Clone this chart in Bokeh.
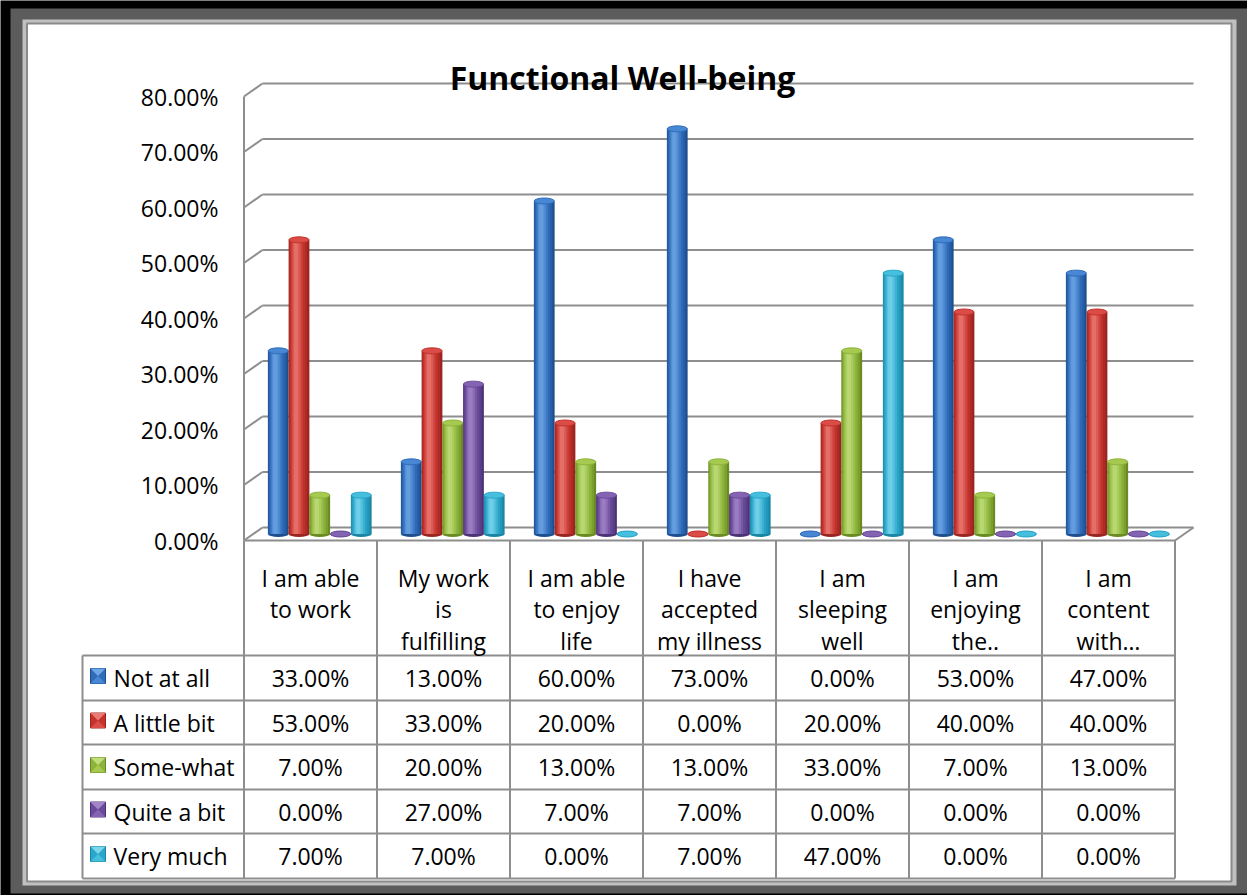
from bokeh.plotting import figure
from bokeh.models import Range1d, ColumnDataSource
from bokeh.core.properties import value
from bokeh.embed import file_html
from bokeh.resources import INLINE

# ---------------- data ----------------
categories = [
    "I am able to work",
    "My work is fulfilling",
    "I am able to enjoy life",
    "I have accepted my illness",
    "I am sleeping well",
    "I am enjoying the..",
    "I am content with…",
]
category_lines = [
    ["I am able", "to work"],
    ["My work", "is", "fulfilling"],
    ["I am able", "to enjoy", "life"],
    ["I have", "accepted", "my illness"],
    ["I am", "sleeping", "well"],
    ["I am", "enjoying", "the.."],
    ["I am", "content", "with…"],
]
series_names = ["Not at all", "A little bit", "Some-what", "Quite a bit", "Very much"]
not_at_all = [33, 13, 60, 73, 0, 53, 47]
a_little_bit = [53, 33, 20, 0, 20, 40, 40]
some_what = [7, 20, 13, 13, 33, 7, 13]
quite_a_bit = [0, 27, 7, 7, 0, 0, 0]
very_much = [7, 7, 0, 7, 47, 0, 0]
series_values = [not_at_all, a_little_bit, some_what, quite_a_bit, very_much]
y_ticks = [0, 10, 20, 30, 40, 50, 60, 70, 80]
title = "Functional Well-being"

# cylinder shades per series: edge, body, light, highlight
shades = [
    ("#1d4f8e", "#2f6cba", "#4787d4", "#6ea6e6"),
    ("#992420", "#c4322c", "#db4c46", "#ec7a74"),
    ("#6a8a22", "#8cb43a", "#a6ca50", "#c2de7c"),
    ("#4c3276", "#6a4a9a", "#8464b2", "#a286c8"),
    ("#1a86a4", "#2aa6ca", "#46bede", "#7cd6ee"),
]

# ---------------- geometry ----------------
W, H = 1247, 895
X0, CW = 243.5, 133.0      # left edge of the first column, column width (px)
Y0, PY = 540.0, 5.55       # pixel row of 0 % on the front edge, px per percent
DEPTH_X, DEPTH_Y = 18.5, 13.0   # perspective offset of the back wall (px)


def X(px):
    return (px - X0) / CW


def Y(py):
    return (Y0 - py) / PY


def mix(c1, c2, t):
    a = [int(c1[k:k + 2], 16) for k in (1, 3, 5)]
    b = [int(c2[k:k + 2], 16) for k in (1, 3, 5)]
    return "#" + "".join(f"{round(a[k] + (b[k] - a[k]) * t):02x}" for k in range(3))


font = value("Open Sans")
grid_col = "#8e8e8e"
n_cat = len(categories)

p = figure(width=W, height=H, x_range=Range1d(X(0), X(W)), y_range=Range1d(Y(H), Y(0)),
           output_backend="svg", toolbar_location=None, min_border=0,
           x_axis_type=None, y_axis_type=None)
p.grid.visible = False
p.outline_line_color = None
p.background_fill_color = "black"
p.border_fill_color = "black"

# ---------------- frame ----------------
p.quad(left=X(10), right=X(1247), top=Y(8), bottom=Y(893), fill_color="#5c5c5c", line_color=None)
p.quad(left=X(22), right=X(1236), top=Y(19), bottom=Y(885), fill_color="#c0c0c0", line_color=None)
p.quad(left=X(26.5), right=X(1231), top=Y(23), bottom=Y(881), fill_color="white",
       line_color="#8a8a8a", line_width=2)

# ---------------- walls and gridlines ----------------
dxb = DEPTH_X / CW
dyb = DEPTH_Y / PY
right_front = float(n_cat)
gsrc = ColumnDataSource(dict(
    x0=[0.0] * len(y_ticks), y0=[float(t) for t in y_ticks],
    x1=[dxb] * len(y_ticks), y1=[t + dyb for t in y_ticks],
    x2=[right_front + dxb] * len(y_ticks),
))
p.segment(x0="x0", y0="y0", x1="x1", y1="y1", source=gsrc, line_color=grid_col, line_width=2)
p.segment(x0="x1", y0="y1", x1="x2", y1="y1", source=gsrc, line_color=grid_col, line_width=2)
p.segment(x0=[0.0], y0=[0.0], x1=[0.0], y1=[float(y_ticks[-1])], line_color=grid_col, line_width=2)
p.segment(x0=[right_front], y0=[0.0], x1=[right_front + dxb], y1=[dyb], line_color=grid_col, line_width=2)

# y tick labels
p.text(x=[X(218)] * len(y_ticks), y=[float(t) for t in y_ticks],
       text=[f"{t:.2f}%" for t in y_ticks], text_align="right", text_baseline="middle",
       text_font=font, text_font_size="23px", text_color="black")

# ---------------- cylinders ----------------
bw = 20.75 / CW
mid_dx = 0.5 * dxb
mid_dy = 0.5 * dyb
cap_h = 6.0 / PY
n_ser = len(series_names)
# (relative width, offset of strip centre, shade position 0 = edge .. 1 = highlight)
strips = [(1.0, 0.0, 0.0), (0.88, -0.04, 0.25), (0.72, -0.07, 0.45),
          (0.55, -0.10, 0.62), (0.38, -0.12, 0.78), (0.2, -0.14, 0.92)]
for s, vals in enumerate(series_values):
    edge, body, light, hi = shades[s]
    xs = [i + 0.5 + mid_dx + (s - (n_ser - 1) / 2) * bw for i in range(n_cat)]
    data = dict(x=xs, top=[v + mid_dy for v in vals], bottom=[mid_dy] * n_cat)
    for k, (_, off, _) in enumerate(strips):
        data[f"x{k}"] = [x + off * bw for x in xs]
    src = ColumnDataSource(data)
    p.ellipse(x="x", y="bottom", width=bw, height=cap_h, source=src, fill_color=edge, line_color=None)
    for k, (wf, _, t) in enumerate(strips):
        if t < 0.5:
            col = mix(edge, body, t / 0.5)
        else:
            col = mix(body, hi, (t - 0.5) / 0.5)
        p.vbar(x=f"x{k}", bottom="bottom", top="top", width=wf * bw, source=src,
               fill_color=col, line_color=None)
    p.ellipse(x="x", y="top", width=0.97 * bw, height=cap_h, source=src,
              fill_color=light, line_color=body, line_width=1)

# ---------------- data table ----------------
row_edges = [655, 700, 744, 789, 833, 878]
legend_left = 82
table_right = X0 + CW * n_cat

# vertical lines
p.segment(x0=[float(k) for k in range(n_cat + 1)], y0=[Y(540)] * (n_cat + 1),
          x1=[float(k) for k in range(n_cat + 1)], y1=[Y(row_edges[-1])] * (n_cat + 1),
          line_color=grid_col, line_width=2)
p.segment(x0=[X(legend_left)], y0=[Y(row_edges[0])], x1=[X(legend_left)], y1=[Y(row_edges[-1])],
          line_color=grid_col, line_width=2)
# horizontal lines
p.segment(x0=[0.0], y0=[0.0], x1=[right_front], y1=[0.0], line_color=grid_col, line_width=2)
p.segment(x0=[X(legend_left)] * len(row_edges), y0=[Y(r) for r in row_edges],
          x1=[X(table_right)] * len(row_edges), y1=[Y(r) for r in row_edges],
          line_color=grid_col, line_width=2)

# header labels
hx, hy, ht = [], [], []
for i, lines in enumerate(category_lines):
    for j, ln in enumerate(lines):
        hx.append(i + 0.5)
        hy.append(Y(577 + 31.5 * j))
        ht.append(ln)
p.text(x=hx, y=hy, text=ht, text_align="center", text_baseline="middle",
       text_font=font, text_font_size="23px", text_color="black")

# value cells and legend keys
cx, cy, ct = [], [], []
lx, ly = [], []
sw_l, sw_r, sw_t, sw_b = [], [], [], []
tri_x, tri_y, tri_c = [], [], []
for s, vals in enumerate(series_values):
    rc = (row_edges[s] + row_edges[s + 1]) / 2
    for i, v in enumerate(vals):
        cx.append(i + 0.5)
        cy.append(Y(rc))
        ct.append(f"{v:.2f}%")
    lx.append(X(113))
    ly.append(Y(rc))
    l, r, t, b = 90, 105, rc - 9.5, rc + 5.5
    sw_l.append(X(l)); sw_r.append(X(r)); sw_t.append(Y(t)); sw_b.append(Y(b))
    cxm, cym = (l + r) / 2, (t + b) / 2
    tri_x.append([X(l), X(r), X(cxm)]); tri_y.append([Y(t), Y(t), Y(cym)]); tri_c.append(shades[s][3])
    tri_x.append([X(l), X(r), X(cxm)]); tri_y.append([Y(b), Y(b), Y(cym)]); tri_c.append(shades[s][2])

p.text(x=cx, y=cy, text=ct, text_align="center", text_baseline="middle",
       text_font=font, text_font_size="23px", text_color="black")
p.quad(left=sw_l, right=sw_r, top=sw_t, bottom=sw_b,
       fill_color=[sh[1] for sh in shades], line_color=[sh[0] for sh in shades], line_width=1)
p.patches(xs=tri_x, ys=tri_y, fill_color=tri_c, line_color=None)
p.text(x=lx, y=ly, text=series_names, text_align="left", text_baseline="middle",
       text_font=font, text_font_size="23px", text_color="black")

# ---------------- title ----------------
p.text(x=[X(622)], y=[Y(77)], text=[title], text_align="center", text_baseline="alphabetic",
       text_font=font, text_font_style="bold", text_font_size="32px", text_color="black")

open("out.html", "w").write(file_html(p, INLINE))
